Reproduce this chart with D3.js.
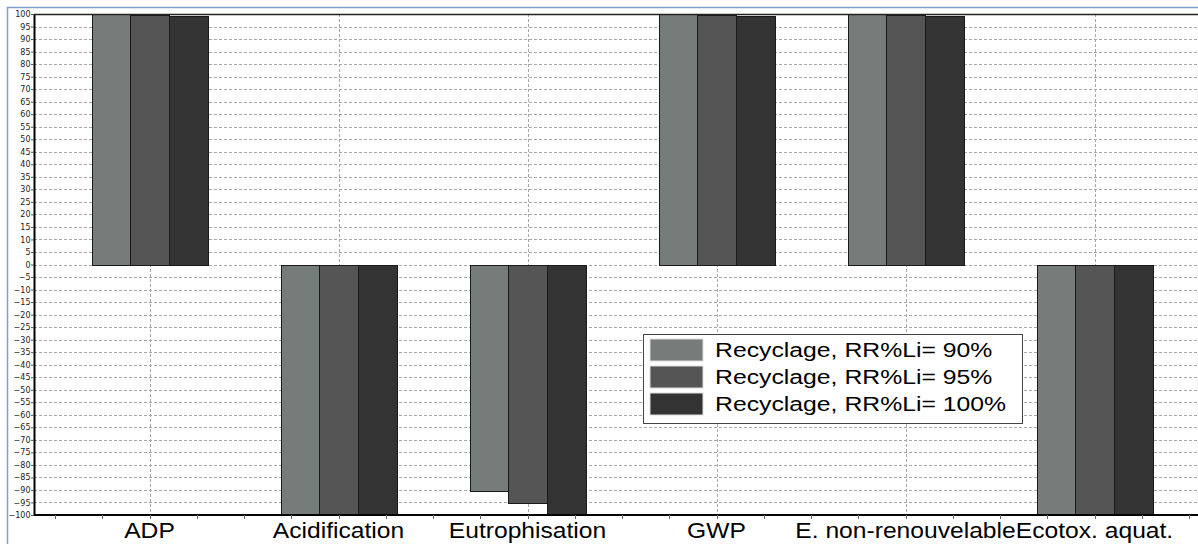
<!DOCTYPE html>
<html><head><meta charset="utf-8">
<script src="https://cdn.jsdelivr.net/npm/d3@7"></script>
<style>body{margin:0;background:#fff}svg{display:block}</style>
</head><body>
<svg id="c" width="1198" height="544"></svg>
<script>
const categories = ["ADP","Acidification","Eutrophisation","GWP","E. non-renouvelable","Ecotox. aquat."];
const seriesNames = ["Recyclage, RR%Li= 90%","Recyclage, RR%Li= 95%","Recyclage, RR%Li= 100%"];
const s90  = [100, -99.6, -90.5, 100, 100, -100];
const s95  = [99.6, -100, -95.2, 99.6, 99.6, -100];
const s100 = [99.2, -100, -100, 99.2, 99.2, -100];
const colors = ["#767c7a","#555555","#333333"];
const yTicks = d3.range(-100, 101, 5);

const svg = d3.select("#c");
const plotLeft = 34, plotTop = 14, plotBottom = 515;
const y = d3.scaleLinear().domain([-100,100]).range([plotBottom, plotTop]);
const x = d3.scaleBand().domain(categories).range([55, 55+189*6]);
const x1 = d3.scaleBand().domain(seriesNames).range([-58, 58]);

// outer blue frame
svg.append("rect").attr("x",7.5).attr("y",7.5).attr("width",1300).attr("height",600)
  .attr("fill","none").attr("stroke","#7f9fcf").attr("stroke-width",1.5);

// plot area
svg.append("rect").attr("x",plotLeft).attr("y",plotTop).attr("width",1198-plotLeft+10).attr("height",plotBottom-plotTop).attr("fill","#fff");

// horizontal grid
svg.append("g").selectAll("line").data(yTicks.filter(d=>d!==-100 && d!==100)).join("line")
  .attr("x1",plotLeft).attr("x2",1198).attr("y1",d=>Math.round(y(d))+0.5).attr("y2",d=>Math.round(y(d))+0.5)
  .attr("stroke","#a8a8a8").attr("stroke-dasharray","3,2").attr("stroke-width",1);
// vertical grid at category centers
svg.append("g").selectAll("line").data(categories).join("line")
  .attr("x1",d=>Math.round(x(d)+x.bandwidth()/2)+0.5).attr("x2",d=>Math.round(x(d)+x.bandwidth()/2)+0.5)
  .attr("y1",plotTop).attr("y2",plotBottom)
  .attr("stroke","#a8a8a8").attr("stroke-dasharray","3,2");

// bars
const series = [s90, s95, s100];
const g = svg.append("g");
categories.forEach((c,i)=>{
  series.forEach((s,j)=>{
    const v = s[i];
    const cx = x(c)+x.bandwidth()/2;
    const x0 = Math.round(cx + x1(seriesNames[j]));
    const w = Math.round(x1.bandwidth());
    const y0 = y(Math.max(0,v)), y1v = y(Math.min(0,v));
    g.append("rect").attr("x",x0+0.5).attr("y",Math.round(y0)+0.5)
      .attr("width",w).attr("height",Math.round(y1v)-Math.round(y0))
      .attr("fill",colors[j]).attr("stroke","#1a1a1a").attr("stroke-width",1);
  });
});

// y axis
const yAxis = d3.axisLeft(y).tickValues(yTicks).tickSize(3).tickSizeOuter(0).tickFormat(d3.format("d"));
const ya = svg.append("g").attr("transform",`translate(${plotLeft},0)`).call(yAxis);
ya.select(".domain").attr("stroke","#000").attr("stroke-width",2);
ya.selectAll(".tick line").attr("stroke","#555");
ya.selectAll("text").attr("font-family","DejaVu Sans, Tahoma, sans-serif").attr("font-size","8px").attr("fill","#222").attr("x",-3.5);

// top line
svg.append("line").attr("x1",plotLeft).attr("x2",1198).attr("y1",plotTop+0.5).attr("y2",plotTop+0.5).attr("stroke","#222").attr("stroke-width",1.5);

// x axis baseline + minor ticks
const xa = svg.append("g");
xa.append("line").attr("x1",plotLeft).attr("x2",1198).attr("y1",plotBottom).attr("y2",plotBottom).attr("stroke","#000").attr("stroke-width",2);
const qticks = [];
categories.forEach(c=>{ for(let k=0;k<4;k++) qticks.push(x(c)+x.bandwidth()*k/4); });
qticks.push(x.range()[1]);
xa.selectAll("line.t").data(qticks).join("line").attr("class","t")
  .attr("x1",d=>Math.round(d)+0.5).attr("x2",d=>Math.round(d)+0.5).attr("y1",plotBottom).attr("y2",plotBottom+4).attr("stroke","#666");
xa.selectAll("text").data(categories).join("text")
  .attr("transform",d=>`translate(${x(d)+x.bandwidth()/2},538) scale(1.12,1)`).attr("text-anchor","middle")
  .attr("font-family","Liberation Sans, Arial, sans-serif").attr("font-size","22px").attr("fill","#000").text(d=>d);

// legend
const lg = svg.append("g");
lg.append("rect").attr("x",643.5).attr("y",334.5).attr("width",379).attr("height",89).attr("fill","#fff").attr("stroke","#444").attr("stroke-width",1);
seriesNames.forEach((n,j)=>{
  lg.append("rect").attr("x",650).attr("y",339+j*27).attr("width",53).attr("height",22).attr("fill",colors[j]).attr("stroke","#ddd");
  lg.append("text").attr("transform",`translate(715,${357+j*27}) scale(1.18,1)`).attr("font-family","Liberation Sans, Arial, sans-serif").attr("font-size","21px").attr("fill","#000").text(n);
});
</script>
</body></html>
